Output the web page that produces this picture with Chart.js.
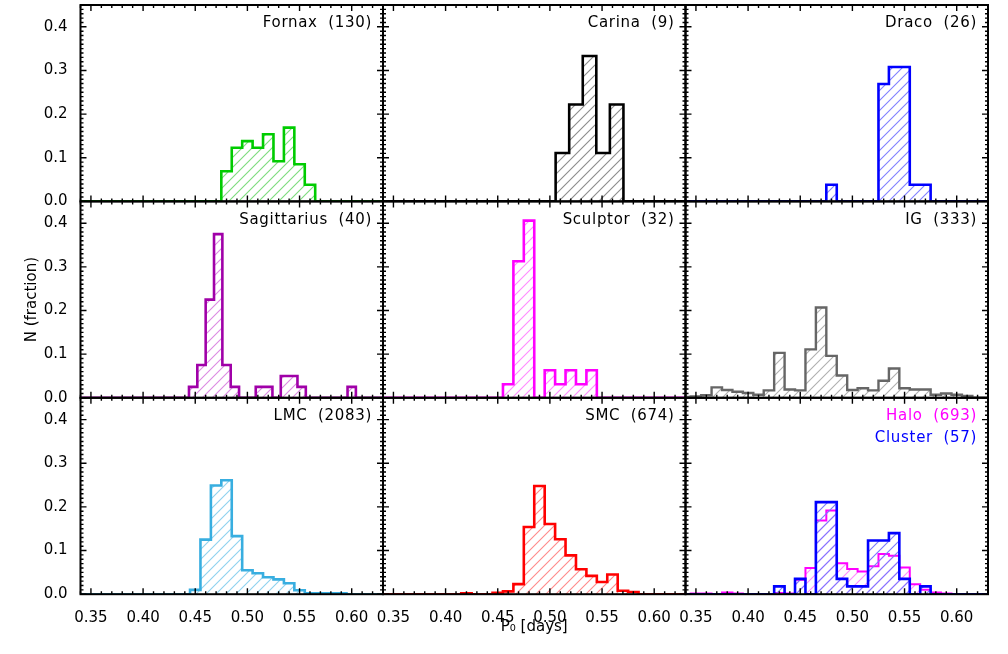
<!DOCTYPE html>
<html>
<head>
<meta charset="utf-8">
<script src="https://cdn.jsdelivr.net/npm/chart.js@4.4.1/dist/chart.umd.min.js"></script>
<style>
    html, body { margin: 0; padding: 0; background: #fff; }
    #wrap { position: relative; width: 1008px; height: 654px; }
    #wrap canvas { position: absolute; left: 0; top: 0; }
</style>
</head>
<body>
<div id="wrap"></div>
<script>
// bin centres, P0 in days (0.01 bins, plus the odd ones used for Carina and Sagittarius)
const bins = [0.34, 0.35, 0.36, 0.37, 0.38, 0.39, 0.40, 0.41, 0.42, 0.43,
              0.44, 0.45, 0.46, 0.47, 0.48, 0.49, 0.50, 0.51, 0.52, 0.53,
              0.54, 0.55, 0.56, 0.57, 0.58, 0.59, 0.60, 0.61, 0.62, 0.63];
const binsCarina = [0.330, 0.343, 0.356, 0.369, 0.382, 0.395, 0.408, 0.421, 0.434, 0.447,
                    0.460, 0.473, 0.486, 0.499, 0.512, 0.525, 0.538, 0.551, 0.564, 0.577,
                    0.590, 0.603, 0.616, 0.629, 0.642];
const binsSgr = [0.336, 0.344, 0.352, 0.360, 0.368, 0.376, 0.384, 0.392, 0.400, 0.408,
                 0.416, 0.424, 0.432, 0.440, 0.448, 0.456, 0.464, 0.472, 0.480, 0.488,
                 0.496, 0.504, 0.512, 0.520, 0.528, 0.536, 0.544, 0.552, 0.560, 0.568,
                 0.576, 0.584, 0.592, 0.600, 0.608, 0.616, 0.624, 0.632];

// fraction of stars per bin
const fornax = [0, 0, 0, 0, 0, 0, 0, 0, 0, 0, 0, 0, 0, 0,
                0.069, 0.123, 0.138, 0.123, 0.154, 0.092, 0.169, 0.085, 0.038,
                0, 0, 0, 0, 0, 0, 0];
const carina = [0, 0, 0, 0, 0, 0, 0, 0, 0, 0, 0, 0, 0, 0,
                0.111, 0.222, 0.333, 0.111, 0.222,
                0, 0, 0, 0, 0, 0];
const draco = [0, 0, 0, 0, 0, 0, 0, 0, 0, 0, 0, 0, 0, 0,
               0.038, 0, 0, 0, 0, 0.269, 0.308, 0.308, 0.038, 0.038,
               0, 0, 0, 0, 0, 0];
const sagittarius = [0, 0, 0, 0, 0, 0, 0, 0, 0, 0, 0, 0, 0, 0,
                     0.025, 0.075, 0.225, 0.375, 0.075, 0.025, 0, 0, 0.025, 0.025,
                     0, 0.05, 0.05, 0.025, 0, 0, 0, 0, 0, 0.025, 0, 0, 0, 0];
const sculptor = [0, 0, 0, 0, 0, 0, 0, 0, 0, 0, 0, 0,
                  0.031, 0.313, 0.406, 0, 0.063, 0.031, 0.063, 0.031, 0.063,
                  0, 0, 0, 0, 0, 0, 0, 0, 0];
const ig = [0.002, 0.003, 0.006, 0.024, 0.018, 0.014, 0.011, 0.007, 0.017, 0.103,
            0.019, 0.017, 0.111, 0.207, 0.096, 0.051, 0.018, 0.022, 0.017, 0.039,
            0.067, 0.022, 0.019, 0.019, 0.007, 0.010, 0.007, 0.004, 0, 0];
const lmc = [0, 0, 0, 0, 0, 0, 0, 0, 0, 0, 0,
             0.010, 0.125, 0.249, 0.261, 0.133, 0.055, 0.048, 0.039, 0.034,
             0.025, 0.009, 0.002, 0.002, 0.002, 0.002,
             0, 0, 0, 0];
const smc = [0, 0, 0, 0, 0, 0, 0, 0,
             0.002, 0, 0, 0.003, 0.0065, 0.023, 0.154, 0.248, 0.161, 0.126, 0.089,
             0.057, 0.042, 0.028, 0.045, 0.008, 0.005,
             0, 0, 0, 0, 0];
const halo = [0, 0.0015, 0.0015, 0, 0.004, 0.0015, 0, 0, 0, 0.003,
              0.0015, 0.033, 0.060, 0.169, 0.192, 0.071, 0.058, 0.052, 0.064, 0.092,
              0.088, 0.061, 0.023, 0.010, 0.004, 0.0015, 0, 0, 0, 0];
const cluster = [0, 0, 0, 0, 0, 0, 0, 0, 0,
                 0.018, 0, 0.035, 0, 0.211, 0.211, 0.035, 0.018, 0.018, 0.123, 0.123,
                 0.140, 0.035, 0, 0.018,
                 0, 0, 0, 0, 0, 0];

// axis ticks
const xTickValues = [0.35, 0.40, 0.45, 0.50, 0.55, 0.60];
const xTickLabels = ['0.35', '0.40', '0.45', '0.50', '0.55', '0.60'];
const yTickValues = [0.0, 0.1, 0.2, 0.3, 0.4];
const yTickLabels = ['0.0', '0.1', '0.2', '0.3', '0.4'];

const FONT = "'DejaVu Sans', sans-serif";
Chart.defaults.font.family = FONT;
Chart.defaults.font.size = 15;
Chart.defaults.color = '#000';

// panel grid (pixels)
const colLeft = [80.5, 383, 685.5];
const colRight = [383, 685.5, 988];
const rowTop = [5, 201.4, 397.8];
const rowBottom = [201.4, 397.8, 594.2];
const Y_AXIS_W = 75;
const X_AXIS_H = 44;

function hatch(color) {
    const c = document.createElement('canvas');
    c.width = 10; c.height = 10;
    const g = c.getContext('2d');
    g.strokeStyle = color;
    g.lineWidth = 1.1;
    g.beginPath();
    g.moveTo(0, 10); g.lineTo(10, 0);
    g.moveTo(-1, 1); g.lineTo(1, -1);
    g.moveTo(9, 11); g.lineTo(11, 9);
    g.stroke();
    return g.createPattern(c, 'repeat');
}

const panels = [
    { row: 0, col: 0, labels: [{ text: 'Fornax (130)', color: '#000' }],
      sets: [{ bins: bins, values: fornax, color: '#00cc00', hatch: '#7ddc7d', width: 2.6 }] },
    { row: 0, col: 1, labels: [{ text: 'Carina (9)', color: '#000' }],
      sets: [{ bins: binsCarina, values: carina, color: '#000000', hatch: '#8c8c8c', width: 2.6 }] },
    { row: 0, col: 2, labels: [{ text: 'Draco (26)', color: '#000' }],
      sets: [{ bins: bins, values: draco, color: '#0000ff', hatch: '#8080ff', width: 2.6 }] },
    { row: 1, col: 0, labels: [{ text: 'Sagittarius (40)', color: '#000' }],
      sets: [{ bins: binsSgr, values: sagittarius, color: '#a000a8', hatch: '#dc8ae2', width: 2.6 }] },
    { row: 1, col: 1, labels: [{ text: 'Sculptor (32)', color: '#000' }],
      sets: [{ bins: bins, values: sculptor, color: '#ff00ff', hatch: '#ff8cff', width: 2.6 }] },
    { row: 1, col: 2, labels: [{ text: 'IG (333)', color: '#000' }],
      sets: [{ bins: bins, values: ig, color: '#666666', hatch: '#b0b0b0', width: 2.4 }] },
    { row: 2, col: 0, labels: [{ text: 'LMC (2083)', color: '#000' }],
      sets: [{ bins: bins, values: lmc, color: '#38aee0', hatch: '#8fd2ef', width: 2.6 }] },
    { row: 2, col: 1, labels: [{ text: 'SMC (674)', color: '#000' }],
      sets: [{ bins: bins, values: smc, color: '#ff0000', hatch: '#ff8a8a', width: 2.6 }] },
    { row: 2, col: 2, labels: [{ text: 'Halo (693)', color: '#ff00ff' }, { text: 'Cluster (57)', color: '#0000ff' }],
      sets: [{ bins: bins, values: cluster, color: '#0000ff', hatch: '#7a7aff', width: 2.6 },
             { bins: bins, values: halo, color: '#ff00ff', hatch: '#ff8cff', width: 2 }] }
];

// frame, inward ticks on all four sides, and the panel name
const frameTicks = {
    id: 'frameTicks',
    afterDatasetsDraw(chart, args, opts) {
        const { ctx, chartArea: a } = chart;
        const xs = chart.scales.x, ys = chart.scales.y;
        ctx.save();
        ctx.strokeStyle = '#000';
        ctx.lineWidth = 1.4;
        ctx.beginPath();
        for (let k = 34; k <= 63; k++) {
            const px = xs.getPixelForValue(k / 100);
            const len = k % 5 === 0 ? 6 : 3;
            ctx.moveTo(px, a.bottom); ctx.lineTo(px, a.bottom - len);
            ctx.moveTo(px, a.top); ctx.lineTo(px, a.top + len);
        }
        for (let k = 0; k <= 45; k++) {
            const py = ys.getPixelForValue(k / 100);
            const len = k % 10 === 0 ? 6 : 3;
            ctx.moveTo(a.left, py); ctx.lineTo(a.left + len, py);
            ctx.moveTo(a.right, py); ctx.lineTo(a.right - len, py);
        }
        ctx.stroke();
        ctx.lineWidth = 2;
        ctx.strokeRect(a.left, a.top, a.right - a.left, a.bottom - a.top);

        ctx.font = '15px ' + FONT;
        ctx.textAlign = 'right';
        ctx.textBaseline = 'middle';
        if ('wordSpacing' in ctx) ctx.wordSpacing = '5px';
        if ('letterSpacing' in ctx) ctx.letterSpacing = '0.7px';
        (opts.labels || []).forEach((l, i) => {
            ctx.fillStyle = l.color;
            ctx.fillText(l.text, a.right - 11, a.top + 18.5 + i * 21.7);
        });
        ctx.restore();
    }
};

function noPadding(s) {
    s.paddingTop = 0;
    s.paddingBottom = 0;
    s.paddingLeft = 0;
    s.paddingRight = 0;
}

const wrap = document.getElementById('wrap');

panels.forEach(p => {
    const showY = p.col === 0;
    const showX = p.row === 2;
    const canvas = document.createElement('canvas');
    canvas.width = 1008;
    canvas.height = 654;
    wrap.appendChild(canvas);

    const datasets = p.sets.map(s => ({
        data: s.bins.map((b, i) => ({ x: b, y: s.values[i] })),
        stepped: 'middle',
        borderColor: s.color,
        borderWidth: s.width,
        backgroundColor: hatch(s.hatch),
        fill: 'origin',
        pointRadius: 0
    }));

    new Chart(canvas.getContext('2d'), {
        type: 'line',
        data: { datasets },
        options: {
            responsive: false,
            animation: false,
            devicePixelRatio: 1,
            layout: {
                padding: {
                    left: colLeft[p.col] - (showY ? Y_AXIS_W : 0),
                    right: 1008 - colRight[p.col],
                    top: rowTop[p.row],
                    bottom: 654 - rowBottom[p.row] - (showX ? X_AXIS_H : 0)
                }
            },
            plugins: {
                legend: { display: false },
                tooltip: { enabled: false },
                frameTicks: { labels: p.labels }
            },
            scales: {
                x: {
                    type: 'linear',
                    min: 0.34,
                    max: 0.63,
                    grid: { display: false },
                    border: { display: false },
                    afterBuildTicks: s => { s.ticks = xTickValues.map(v => ({ value: v })); },
                    afterFit: s => { s.height = showX ? X_AXIS_H : 0; noPadding(s); },
                    ticks: {
                        display: showX,
                        padding: 7,
                        maxRotation: 0,
                        autoSkip: false,
                        callback: (v, i) => xTickLabels[i]
                    },
                    title: {
                        display: showX && p.col === 1,
                        text: 'P₀ [days]',
                        padding: { top: 0, bottom: 2 }
                    }
                },
                y: {
                    type: 'linear',
                    min: 0,
                    max: 0.45,
                    grid: { display: false },
                    border: { display: false },
                    afterBuildTicks: s => { s.ticks = yTickValues.map(v => ({ value: v })); },
                    afterFit: s => { s.width = showY ? Y_AXIS_W : 0; noPadding(s); },
                    ticks: {
                        display: showY,
                        padding: 5,
                        autoSkip: false,
                        callback: (v, i) => yTickLabels[i]
                    },
                    title: {
                        display: showY && p.row === 1,
                        text: 'N (fraction)',
                        padding: { top: 18, bottom: 0 }
                    }
                }
            }
        },
        plugins: [frameTicks]
    });
});
</script>
</body>
</html>
